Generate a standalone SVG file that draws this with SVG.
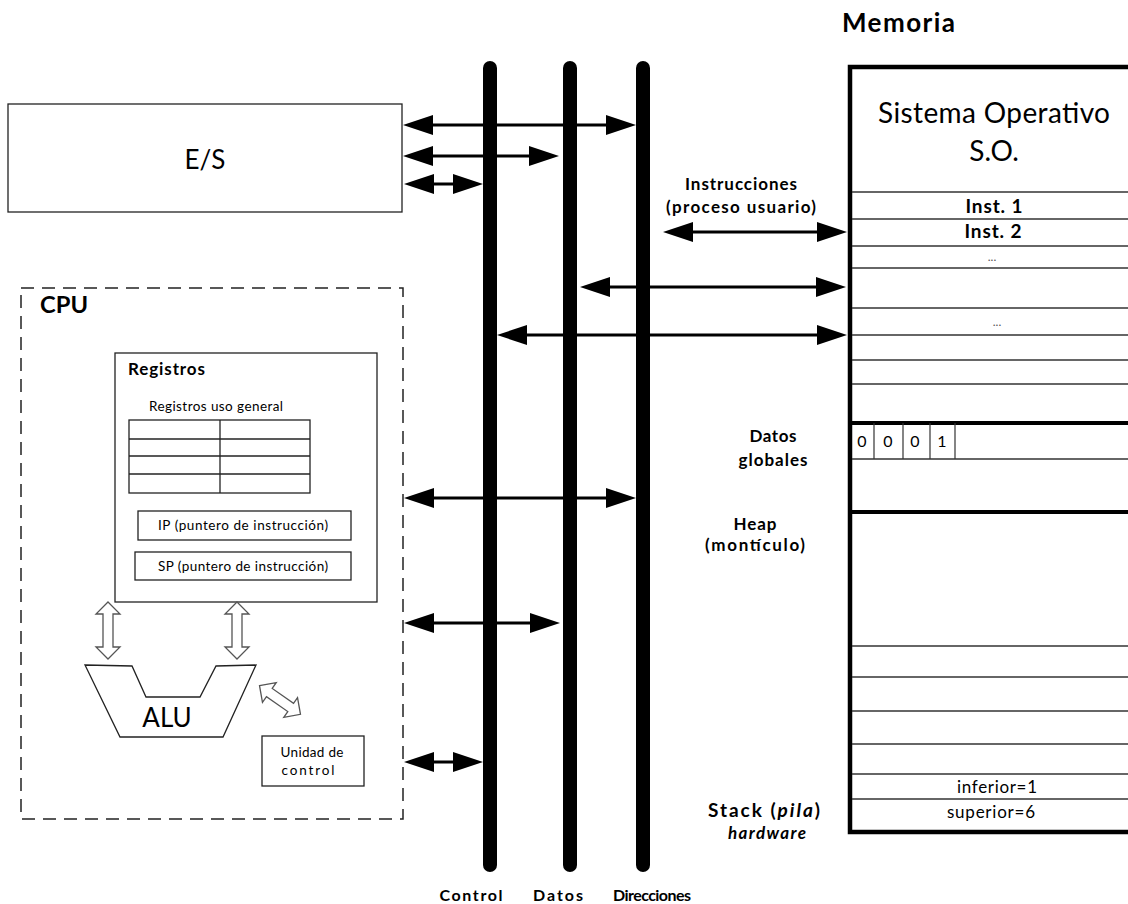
<svg xmlns="http://www.w3.org/2000/svg" width="1128" height="904" viewBox="0 0 1128 904">
  <style>
    text { font-family: Lato, "Open Sans", "Liberation Sans", sans-serif; fill: #000; }
    .b { font-weight: bold; }
    .c { text-anchor: middle; }
    .box { fill: #fff; stroke: #222; stroke-width: 1.3; }
    .bus { stroke: #000; stroke-width: 14; stroke-linecap: round; fill: none; }
    .link { stroke: #000; stroke-width: 3; fill: none; marker-start: url(#head); marker-end: url(#head); }
    .row { stroke: #333; stroke-width: 1.5; }
    .thick { stroke: #000; stroke-width: 4; }
    .hollow { fill: #fff; stroke: #555; stroke-width: 1.3; }
    .dots { fill: #555; }
  </style>
  <defs>
    <marker id="head" markerUnits="userSpaceOnUse" markerWidth="32" markerHeight="22" viewBox="0 -11 32 22" refX="20" refY="0" orient="auto-start-reverse">
      <path d="M0,-10 L30,0 L0,10 z" fill="#000"/>
    </marker>
  </defs>

  <rect width="1128" height="904" fill="#fff"/>

  <!-- I/O block -->
  <g id="es">
    <rect class="box" x="8" y="104" width="394" height="108"/>
    <text class="c" x="205" y="169" font-size="26">E/S</text>
  </g>

  <!-- CPU -->
  <g id="cpu">
    <rect x="21" y="288" width="382" height="531" fill="none" stroke="#222" stroke-width="1.5" stroke-dasharray="13 8"/>
    <text class="b" x="40" y="313" font-size="22" textLength="48" lengthAdjust="spacingAndGlyphs">CPU</text>
  </g>

  <g id="registros">
    <rect class="box" x="115" y="353" width="262" height="249"/>
    <text class="b" x="128" y="375" font-size="17" textLength="77">Registros</text>
    <text x="149" y="411" font-size="13.5" textLength="134">Registros uso general</text>
    <g fill="none" stroke="#222" stroke-width="1.3">
      <rect x="129" y="420" width="181" height="73"/>
      <line x1="129" y1="439" x2="310" y2="439"/>
      <line x1="129" y1="456" x2="310" y2="456"/>
      <line x1="129" y1="474" x2="310" y2="474"/>
      <line x1="220" y1="420" x2="220" y2="493"/>
    </g>
  </g>

  <g id="ip">
    <rect class="box" x="138" y="511" width="213" height="29"/>
    <text class="c" x="243" y="530" font-size="13.5" textLength="170">IP (puntero de instrucción)</text>
  </g>

  <g id="sp">
    <rect class="box" x="135" y="552" width="216" height="28"/>
    <text class="c" x="243" y="571" font-size="13.5" textLength="170">SP (puntero de instrucción)</text>
  </g>

  <g id="alu">
    <polygon points="85,665 132,666 146,697 200,697 216,666 256,665 223,737 120,737" fill="#fff" stroke="#222" stroke-width="1.3"/>
    <text class="c" x="167" y="727" font-size="26">ALU</text>
  </g>

  <g id="unidad-control">
    <rect class="box" x="262" y="736" width="102" height="50"/>
    <text class="c" x="312" y="757" font-size="13.5" textLength="63">Unidad de</text>
    <text class="c" x="308" y="775" font-size="13.5" textLength="53">control</text>
  </g>

  <!-- internal CPU transfers -->
  <g id="cpu-links">
    <polygon class="hollow" points="108,602 120,614 113,614 113,647 120,647 108,659 96,647 103,647 103,614 96,614"/>
    <polygon class="hollow" points="237,602 249,614 242,614 242,647 249,647 237,659 225,647 232,647 232,614 225,614"/>
    <polygon class="hollow" transform="translate(280,700) rotate(35)" points="-25,0 -13,-12 -13,-5 13,-5 13,-12 25,0 13,12 13,5 -13,5 -13,12"/>
  </g>

  <!-- Memory -->
  <g id="memoria">
    <text class="b" x="842" y="32" font-size="26" textLength="113">Memoria</text>
    <rect x="850" y="67" width="300" height="765" fill="#fff" stroke="#000" stroke-width="4.5"/>
    <text class="c" x="994" y="123" font-size="28" textLength="232">Sistema Operativo</text>
    <text class="c" x="994" y="161" font-size="28">S.O.</text>
    <g class="row">
      <line x1="852" y1="192" x2="1128" y2="192"/>
      <line x1="852" y1="219" x2="1128" y2="219"/>
      <line x1="852" y1="246" x2="1128" y2="246"/>
      <line x1="852" y1="268" x2="1128" y2="268"/>
      <line x1="852" y1="308" x2="1128" y2="308"/>
      <line x1="852" y1="335" x2="1128" y2="335"/>
      <line x1="852" y1="360" x2="1128" y2="360"/>
      <line x1="852" y1="384" x2="1128" y2="384"/>
      <line x1="852" y1="459" x2="1128" y2="459"/>
      <line x1="852" y1="646" x2="1128" y2="646"/>
      <line x1="852" y1="677" x2="1128" y2="677"/>
      <line x1="852" y1="711" x2="1128" y2="711"/>
      <line x1="852" y1="744" x2="1128" y2="744"/>
      <line x1="852" y1="774" x2="1128" y2="774"/>
      <line x1="852" y1="799" x2="1128" y2="799"/>
    </g>
    <line class="thick" x1="852" y1="423" x2="1128" y2="423"/>
    <line class="thick" x1="852" y1="512" x2="1128" y2="512"/>
    <text class="c b" x="994" y="213" font-size="19" textLength="57">Inst. 1</text>
    <text class="c b" x="993" y="238" font-size="19" textLength="57">Inst. 2</text>
    <text class="c dots" x="992" y="261" font-size="12">...</text>
    <text class="c dots" x="997" y="326" font-size="12">...</text>
    <g stroke="#333" stroke-width="1.2">
      <line x1="874" y1="423" x2="874" y2="459"/>
      <line x1="903" y1="423" x2="903" y2="459"/>
      <line x1="930" y1="423" x2="930" y2="459"/>
      <line x1="955" y1="423" x2="955" y2="459"/>
    </g>
    <g font-size="16">
      <text class="c" x="862" y="447">0</text>
      <text class="c" x="888" y="447">0</text>
      <text class="c" x="915" y="447">0</text>
      <text class="c" x="942" y="447">1</text>
    </g>
    <text class="c" x="997" y="793" font-size="17" textLength="80">inferior=1</text>
    <text class="c" x="991" y="818" font-size="17" textLength="88">superior=6</text>
  </g>

  <!-- memory region labels -->
  <g id="etiquetas">
    <text class="c b" x="741" y="190" font-size="17" textLength="112">Instrucciones</text>
    <text class="c b" x="741" y="213" font-size="17" textLength="150">(proceso usuario)</text>
    <text class="c b" x="773" y="442" font-size="17" textLength="47">Datos</text>
    <text class="c b" x="773" y="466" font-size="17" textLength="69">globales</text>
    <text class="c b" x="755" y="530" font-size="17" textLength="43">Heap</text>
    <text class="c b" x="755" y="551" font-size="17" textLength="100">(montículo)</text>
    <text class="c b" x="764" y="817" font-size="19" textLength="112">Stack (<tspan font-style="italic">pila</tspan>)</text>
    <text class="c b" x="767" y="839" font-size="17" font-style="italic" textLength="78">hardware</text>
  </g>

  <!-- system buses -->
  <g id="buses">
    <line class="bus" x1="490" y1="68" x2="490" y2="865"/>
    <line class="bus" x1="570" y1="68" x2="570" y2="865"/>
    <line class="bus" x1="643" y1="68" x2="643" y2="865"/>
    <text class="c b" x="471" y="901" font-size="16" textLength="63">Control</text>
    <text class="c b" x="558" y="901" font-size="16" textLength="50">Datos</text>
    <text class="c b" x="652" y="901" font-size="16" textLength="78">Direcciones</text>
  </g>

  <!-- bus connections -->
  <g id="connectors">
    <line class="link" x1="413" y1="125" x2="626" y2="125"/>
    <line class="link" x1="413" y1="156" x2="549" y2="156"/>
    <line class="link" x1="414" y1="184" x2="473" y2="184"/>
    <line class="link" x1="673" y1="232" x2="837" y2="232"/>
    <line class="link" x1="590" y1="287" x2="836" y2="287"/>
    <line class="link" x1="507" y1="335" x2="837" y2="335"/>
    <line class="link" x1="414" y1="498" x2="626" y2="498"/>
    <line class="link" x1="414" y1="623" x2="550" y2="623"/>
    <line class="link" x1="414" y1="762" x2="473" y2="762"/>
  </g>
</svg>
